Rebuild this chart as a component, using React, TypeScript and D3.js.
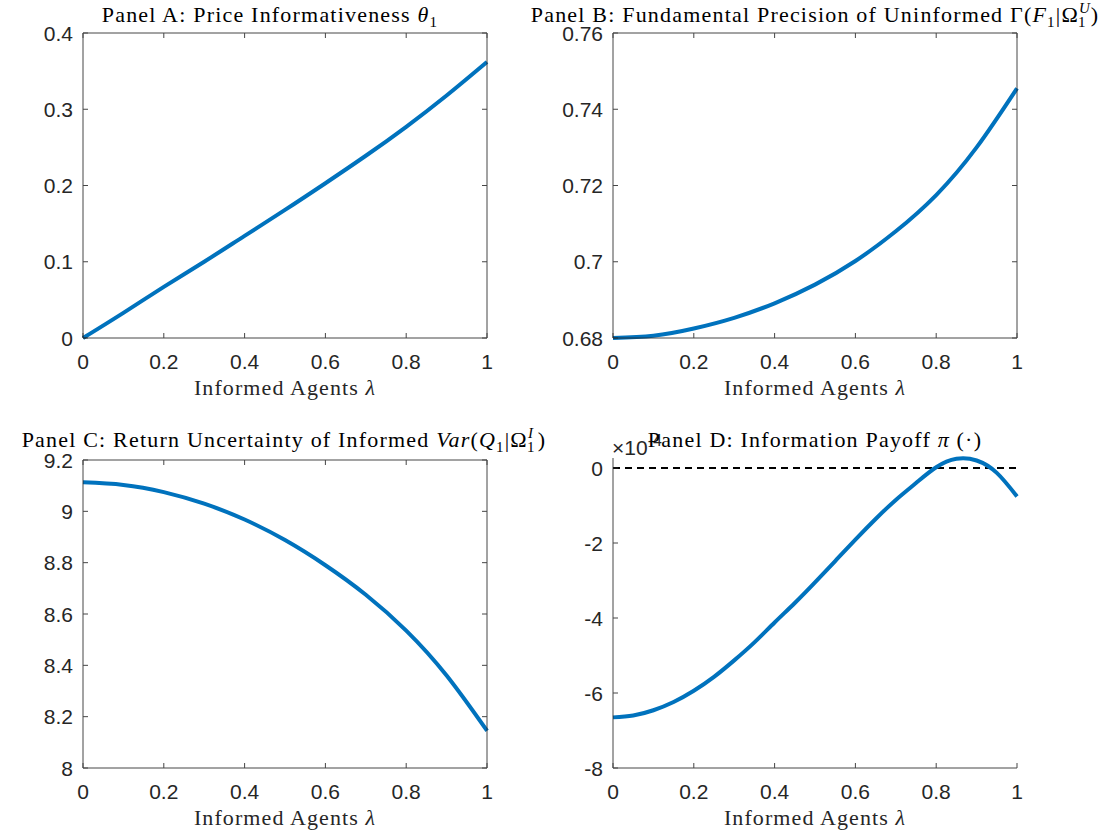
import React from 'react';
import * as d3 from 'd3';

// lambda grid shared by all panels
const lambdaGrid = [0, 0.1, 0.2, 0.3, 0.4, 0.5, 0.6, 0.7, 0.8, 0.9, 1];
const thetaValues = [0, 0.033, 0.067, 0.1, 0.134, 0.168, 0.203, 0.239, 0.277, 0.318, 0.362];
const precisionValues = [0.68, 0.6806, 0.6825, 0.6853, 0.6891, 0.694, 0.7002, 0.708, 0.7175, 0.73, 0.7455];
const varianceValues = [9.113, 9.103, 9.075, 9.03, 8.968, 8.888, 8.79, 8.675, 8.535, 8.36, 8.145];

const payoffLambda = [0, 0.05, 0.1, 0.15, 0.2, 0.25, 0.3, 0.35, 0.4, 0.45, 0.5, 0.55, 0.6, 0.65, 0.7, 0.75, 0.8, 0.85, 0.9, 0.95, 1];
const payoffValues = [-6.65, -6.6, -6.46, -6.24, -5.94, -5.57, -5.13, -4.65, -4.12, -3.6, -3.05, -2.48, -1.91, -1.36, -0.85, -0.4, 0.02, 0.245, 0.2, -0.13, -0.76];

const xTickValues = [0, 0.2, 0.4, 0.6, 0.8, 1];
const yTicksA = [0, 0.1, 0.2, 0.3, 0.4];
const yTicksB = [0.68, 0.7, 0.72, 0.74, 0.76];
const yTicksC = [8, 8.2, 8.4, 8.6, 8.8, 9, 9.2];
const yTicksD = [-8, -6, -4, -2, 0];

const xLabel = 'Informed Agents ';
const BLUE = '#0072BD';
const AXIS = '#262626';
const SANS = '"Liberation Sans", Arial, sans-serif';
const SERIF = '"Liberation Serif", "Times New Roman", serif';

interface PanelProps {
  left: number;
  top: number;
  width: number;
  height: number;
  xs: number[];
  ys: number[];
  yDomain: [number, number];
  yTicks: number[];
  box: boolean;
  zeroLine?: boolean;
  title: React.ReactNode;
  titleX: number;
  titleY: number;
  exponent?: boolean;
}

// matlab style labels, plain hyphen for minus
const fmt = (v: number) => d3.format('.2~f')(v).replace('−', '-');

const Panel: React.FC<PanelProps> = (p) => {
  const x = d3.scaleLinear().domain([0, 1]).range([p.left, p.left + p.width]);
  const y = d3.scaleLinear().domain(p.yDomain).range([p.top + p.height, p.top]);
  const pts = p.xs.map((v, i) => [v, p.ys[i]] as [number, number]);
  const line = d3
    .line<[number, number]>()
    .x(d => x(d[0]))
    .y(d => y(d[1]))
    .curve(d3.curveNatural);
  const bottom = p.top + p.height;
  const right = p.left + p.width;
  const tk = 5;

  return (
    <g>
      {p.zeroLine && (
        <line x1={x(0)} x2={x(1)} y1={y(0)} y2={y(0)} stroke="#000" strokeWidth={2} strokeDasharray="7,5" />
      )}
      <path d={line(pts) || ''} fill="none" stroke={BLUE} strokeWidth={4} />
      {/* axes lines */}
      <g stroke={AXIS} strokeWidth={1} fill="none" opacity={0.85}>
        <line x1={p.left} x2={right} y1={bottom} y2={bottom} />
        <line x1={p.left} x2={p.left} y1={p.top} y2={bottom} />
        {p.box && <line x1={p.left} x2={right} y1={p.top} y2={p.top} />}
        {p.box && <line x1={right} x2={right} y1={p.top} y2={bottom} />}
        {xTickValues.map(t => (
          <g key={'xt' + t}>
            <line x1={x(t)} x2={x(t)} y1={bottom} y2={bottom - tk} />
            {p.box && <line x1={x(t)} x2={x(t)} y1={p.top} y2={p.top + tk} />}
          </g>
        ))}
        {p.yTicks.map(t => (
          <g key={'yt' + t}>
            <line x1={p.left} x2={p.left + tk} y1={y(t)} y2={y(t)} />
            {p.box && <line x1={right} x2={right - tk} y1={y(t)} y2={y(t)} />}
          </g>
        ))}
      </g>
      <g fontFamily={SANS} fontSize={21} fill={AXIS}>
        {xTickValues.map(t => (
          <text key={'xl' + t} x={x(t)} y={bottom + 31} textAnchor="middle">
            {fmt(t)}
          </text>
        ))}
        {p.yTicks.map(t => (
          <text key={'yl' + t} x={p.left - 10} y={y(t) + 7.5} textAnchor="end">
            {fmt(t)}
          </text>
        ))}
        {p.exponent && (
          <text x={p.left - 1} y={p.top - 3}>
            ×10
            <tspan fontSize={16} dy={-9}>-4</tspan>
          </text>
        )}
      </g>
      <text x={(p.left + right) / 2} y={bottom + 57} textAnchor="middle" fontFamily={SERIF} fontSize={22} letterSpacing={1.1} fill={AXIS}>
        {xLabel}
        <tspan fontStyle="italic">λ</tspan>
      </text>
      <text x={p.titleX} y={p.titleY} textAnchor="middle" fontFamily={SERIF} fontSize={22} letterSpacing={1.2} fill="#000">
        {p.title}
      </text>
    </g>
  );
};

export default function App() {
  const W = 404;
  const H = 305;
  return (
    <div style={{ position: 'absolute', left: 0, top: 0, background: '#fff' }}>
      <svg width={1117} height={833} style={{ display: 'block' }}>
        <rect width={1117} height={833} fill="#fff" />
        <Panel
          left={83} top={33} width={W} height={H}
          xs={lambdaGrid} ys={thetaValues} yDomain={[0, 0.4]} yTicks={yTicksA} box
          titleX={270} titleY={22}
          title={
            <>
              <tspan>Panel A: Price Informativeness </tspan>
              <tspan fontStyle="italic">θ</tspan>
              <tspan fontSize={15} dy={5}>1</tspan>
            </>
          }
        />
        <Panel
          left={613} top={33} width={W} height={H}
          xs={lambdaGrid} ys={precisionValues} yDomain={[0.68, 0.76]} yTicks={yTicksB} box
          titleX={815} titleY={22}
          title={
            <>
              <tspan>Panel B: Fundamental Precision of Uninformed Γ(</tspan>
              <tspan fontStyle="italic">F</tspan>
              <tspan fontSize={15} dy={5}>1</tspan>
              <tspan dy={-5}>|Ω</tspan>
              <tspan fontSize={15} dy={-9} fontStyle="italic">U</tspan>
              <tspan fontSize={15} dx={-13} dy={14}>1</tspan>
              <tspan dx={4} dy={-5}>)</tspan>
            </>
          }
        />
        <Panel
          left={83} top={460} width={W} height={308}
          xs={lambdaGrid} ys={varianceValues} yDomain={[8, 9.2]} yTicks={yTicksC} box
          titleX={284} titleY={447}
          title={
            <>
              <tspan>Panel C: Return Uncertainty of Informed </tspan>
              <tspan fontStyle="italic">Var</tspan>
              <tspan>(</tspan>
              <tspan fontStyle="italic">Q</tspan>
              <tspan fontSize={15} dy={5}>1</tspan>
              <tspan dy={-5}>|Ω</tspan>
              <tspan fontSize={15} dy={-9} fontStyle="italic">I</tspan>
              <tspan fontSize={15} dx={-7} dy={14}>1</tspan>
              <tspan dx={2} dy={-5}>)</tspan>
            </>
          }
        />
        <Panel
          left={613} top={458} width={W} height={310}
          xs={payoffLambda} ys={payoffValues} yDomain={[-8, 0.267]} yTicks={yTicksD} box={false}
          zeroLine
          exponent
          titleX={815} titleY={447}
          title={
            <>
              <tspan>Panel D: Information Payoff </tspan>
              <tspan fontStyle="italic">π</tspan>
              <tspan> (·)</tspan>
            </>
          }
        />
      </svg>
    </div>
  );
}
